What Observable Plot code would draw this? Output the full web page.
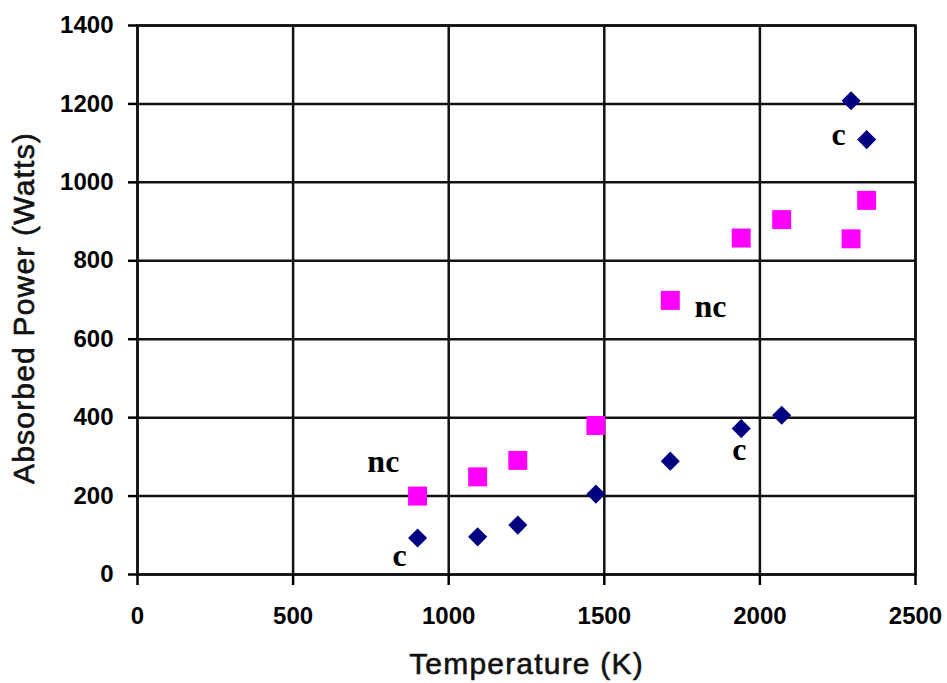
<!DOCTYPE html>
<html>
<head>
<meta charset="utf-8">
<script src="https://cdn.jsdelivr.net/npm/d3@7"></script>
<script src="https://cdn.jsdelivr.net/npm/@observablehq/plot@0.6"></script>
<style>
  html, body { margin: 0; padding: 0; background: #fff; }
  #chart { width: 947px; height: 683px; }
</style>
</head>
<body>
<div id="chart"></div>
<script>
// ---- Data ----
const temperature = [900, 1093, 1222, 1473, 1712, 1940, 2070, 2293, 2343];
const powerC  = [93, 96, 126, 205, 289, 372, 406, 1208, 1109];
const powerNC = [200, 249, 291, 380, 699, 858, 905, 856, 954];

const xTicks = [0, 500, 1000, 1500, 2000, 2500];
const yTicks = [0, 200, 400, 600, 800, 1000, 1200, 1400];

// annotation labels (data units)
const noteText = ["nc", "c", "nc", "c", "c"];
const noteX = [790, 842, 1841, 1934, 2253];
const noteY = [281, 41, 676, 310, 1114];

const xTitle = "Temperature (K)";
const yTitle = "Absorbed Power (Watts)";

// ---- Build tables ----
const cData = temperature.map((t, i) => ({t, p: powerC[i]}));
const ncData = temperature.map((t, i) => ({t, p: powerNC[i]}));
const notes = noteText.map((s, i) => ({s, x: noteX[i], y: noteY[i]}));

const sans = "'Liberation Sans', Arial, sans-serif";
const serif = "'Liberation Serif', 'Times New Roman', serif";
const fmt = d3.format("d");

const chart = Plot.plot({
  width: 947,
  height: 683,
  marginLeft: 137,
  marginRight: 32,
  marginTop: 25,
  marginBottom: 109,
  style: {background: "#fff", color: "#000", fontFamily: sans},
  x: {domain: [0, 2500], nice: false},
  y: {domain: [0, 1400], nice: false},
  marks: [
    Plot.gridX(xTicks, {stroke: "#111", strokeOpacity: 1, strokeWidth: 2.5}),
    Plot.gridY(yTicks, {stroke: "#111", strokeOpacity: 1, strokeWidth: 2.5}),
    Plot.frame({stroke: "#111", strokeWidth: 2.5}),
    Plot.axisX(xTicks, {tickSize: 11, tickPadding: 21, tickFormat: fmt, label: null,
      strokeWidth: 2.5, fontSize: 24, fontWeight: "bold", fontFamily: sans}),
    Plot.axisY(yTicks, {tickSize: 9, tickPadding: 15, tickFormat: fmt, label: null,
      strokeWidth: 2.5, fontSize: 24, fontWeight: "bold", fontFamily: sans}),
    Plot.dot(ncData, {x: "t", y: "p", symbol: "square", r: 10.7, fill: "#ff00ff", stroke: "none"}),
    Plot.dot(cData, {x: "t", y: "p", symbol: "diamond2", r: 8.6, fill: "#000080", stroke: "none"}),
    Plot.text(notes, {x: "x", y: "y", text: "s", fontFamily: serif, fontWeight: "bold",
      fontSize: 32, fill: "#000", textAnchor: "middle", lineAnchor: "middle", dy: -3}),
    Plot.text([xTitle], {frameAnchor: "bottom", text: d => d, dy: 90, fontSize: 30,
      fontWeight: "normal", fontFamily: sans, fill: "#111", stroke: "#111", strokeWidth: 0.6,
      lineAnchor: "middle", textAnchor: "middle"}),
    Plot.text([yTitle], {frameAnchor: "left", text: d => d, rotate: -90, dx: -113, dy: 8,
      fontSize: 30, fontWeight: "normal", fontFamily: sans, fill: "#111", stroke: "#111", strokeWidth: 0.6,
      lineAnchor: "middle", textAnchor: "middle"})
  ]
});

// widen axis titles slightly to match reference spacing
d3.select(chart).selectAll("text").each(function() {
  const t = this.textContent;
  if (t === xTitle || t === yTitle) this.setAttribute("letter-spacing", "1.2");
});

document.getElementById("chart").appendChild(chart);
</script>
</body>
</html>
